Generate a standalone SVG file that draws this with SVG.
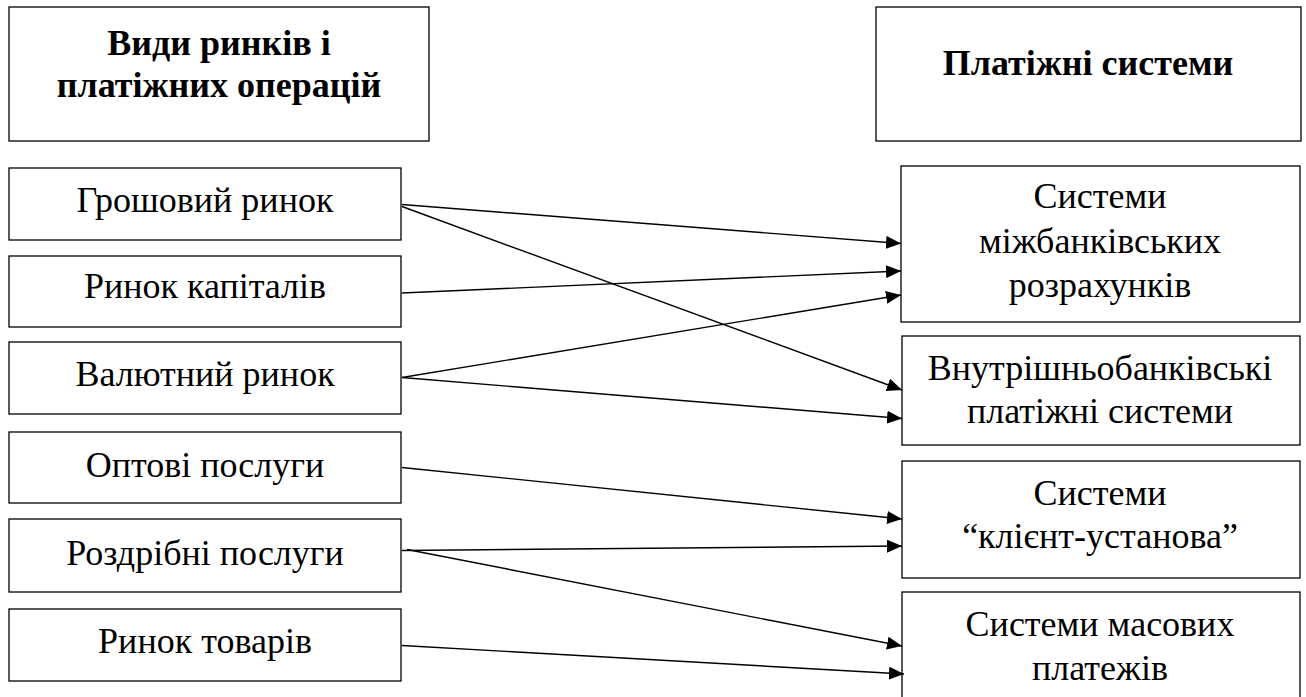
<svg xmlns="http://www.w3.org/2000/svg" width="1306" height="697" viewBox="0 0 1306 697">
<style>
.box{fill:#fff;stroke:#000;stroke-width:1.3}
text{font-family:'Tinos','Nimbus Roman','Nimbus Roman No9 L','FreeSerif','Noto Serif','Liberation Serif','Times New Roman','DejaVu Serif',serif;font-size:36px;fill:#000;text-anchor:middle}
.b{font-weight:bold}
.c{stroke:#000;stroke-width:1.4;fill:none;marker-end:url(#arr)}
</style>
<defs>
<marker id="arr" markerUnits="userSpaceOnUse" markerWidth="16" markerHeight="13" refX="15" refY="6.5" orient="auto">
<path d="M0,0 L15,6.5 L0,13 z" fill="#000"/>
</marker>
</defs>
<rect width="1306" height="697" fill="#fff"/>
<g id="hdr-left"><rect class="box" x="9" y="7" width="420" height="134"/><text class="b" x="219" y="55">Види ринків і</text><text class="b" x="219" y="97">платіжних операцій</text></g>
<g id="hdr-right"><rect class="box" x="876" y="7" width="425" height="134"/><text class="b" x="1088" y="75">Платіжні системи</text></g>
<g id="l1"><rect class="box" x="9" y="168" width="392" height="72"/><text x="205" y="212">Грошовий ринок</text></g>
<g id="l2"><rect class="box" x="9" y="256" width="392" height="71"/><text x="205" y="298">Ринок капіталів</text></g>
<g id="l3"><rect class="box" x="9" y="342" width="392" height="72"/><text x="205" y="386">Валютний ринок</text></g>
<g id="l4"><rect class="box" x="9" y="432" width="392" height="71"/><text x="205" y="477">Оптові послуги</text></g>
<g id="l5"><rect class="box" x="9" y="519" width="392" height="73"/><text x="205" y="565">Роздрібні послуги</text></g>
<g id="l6"><rect class="box" x="9" y="609" width="392" height="72"/><text x="205" y="653">Ринок товарів</text></g>
<g id="r1"><rect class="box" x="901" y="166" width="399" height="156"/><text x="1100" y="208">Системи</text><text x="1100" y="253">міжбанківських</text><text x="1100" y="297">розрахунків</text></g>
<g id="r2"><rect class="box" x="902" y="336" width="398" height="109"/><text x="1100" y="380">Внутрішньобанківські</text><text x="1100" y="423">платіжні системи</text></g>
<g id="r3"><rect class="box" x="902" y="461" width="398" height="117"/><text x="1100" y="505">Системи</text><text x="1100" y="548">“клієнт-установа”</text></g>
<g id="r4"><rect class="box" x="902" y="592" width="398" height="120"/><text x="1100" y="636">Системи масових</text><text x="1100" y="680">платежів</text></g>
<g id="connectors">
<line class="c" x1="402" y1="204.5" x2="901" y2="243.5"/>
<line class="c" x1="402" y1="206.5" x2="902" y2="390"/>
<line class="c" x1="402" y1="293" x2="901" y2="271"/>
<line class="c" x1="402" y1="377.5" x2="901" y2="295"/>
<line class="c" x1="402" y1="377.5" x2="902" y2="418.5"/>
<line class="c" x1="402" y1="467.5" x2="902" y2="519"/>
<line class="c" x1="402" y1="550.5" x2="902" y2="546"/>
<line class="c" x1="407" y1="549.5" x2="902" y2="646"/>
<line class="c" x1="402" y1="645.5" x2="904" y2="674"/>
</g>
</svg>
